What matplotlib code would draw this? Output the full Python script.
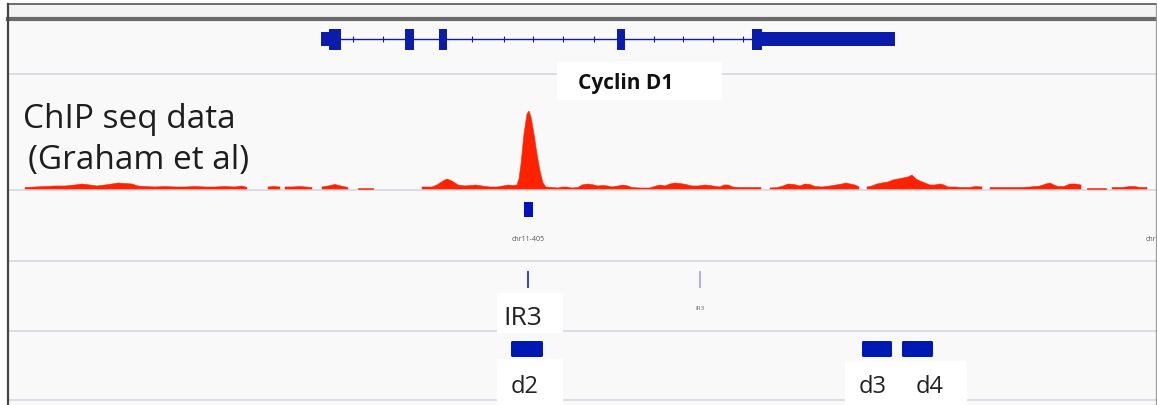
import matplotlib.pyplot as plt
from matplotlib.patches import Rectangle, FancyBboxPatch
import numpy as np

plt.rcParams['font.family'] = ['Open Sans', 'DejaVu Sans']

# canvas in screen units (1 unit = 1 px along the locus)
W, H = 1157, 406

# ---------------- data ----------------
gene_name = 'Cyclin D1'
cds_starts = [329, 405, 439, 617, 752]
cds_ends = [341, 414, 447, 625, 762]
utr_starts = [321, 762]
utr_ends = [329, 895]
intron_start, intron_end = 341, 752
strand_ticks = [353, 383, 472, 504, 533, 563, 594, 654, 683, 713, 743]

nan = np.nan
chip_pos = [25, 35, 45, 55, 65, 75, 82, 90, 97, 105, 112, 118, 125, 132, 138,
            145, 155, 165, 175, 185, 195, 205, 215, 225, 235, 242, 247,
            255,
            268, 274, 280,
            283,
            285, 292, 300, 306, 312,
            317,
            322, 328, 335, 341, 348,
            353,
            358, 365, 373,
            400,
            422, 432, 437, 443, 447, 452, 458, 465, 470, 476, 482, 490, 497,
            503, 508, 513, 517, 519, 521, 524, 527, 529, 531, 534, 537, 540,
            543, 546, 552, 558, 562, 567, 572, 578, 582, 588, 594, 598, 603,
            608, 612, 618, 623, 628, 632, 640, 650, 656, 660, 665, 670, 675,
            680, 686, 692, 698, 705, 710, 716, 720, 724, 728, 733, 740, 750,
            761,
            765,
            770, 778, 783, 788, 794, 800, 805, 810, 815, 822, 830, 836, 842,
            846, 850, 855, 859,
            863,
            867, 872, 877, 882, 888, 893, 898, 903, 908, 912, 916, 920, 925,
            930, 935, 940, 944, 948, 955, 962, 970, 975, 982,
            986,
            990, 1000, 1010, 1020, 1030, 1040, 1046, 1050, 1054, 1058, 1064,
            1070, 1076, 1081,
            1084,
            1087, 1097, 1106,
            1109,
            1112, 1122, 1130, 1135, 1140, 1147]
chip_val = [1.5, 2, 2.5, 3, 3, 4, 5, 4, 3, 4, 5, 6, 5.5, 5, 3,
            2.5, 2, 2.5, 2, 2, 2.5, 2, 2, 2.5, 2, 3, 1.5,
            nan,
            2, 2.5, 2,
            nan,
            2, 2, 2.5, 2, 1.5,
            nan,
            2, 3, 4.5, 3, 1.5,
            nan,
            1.5, 1.5, 1.5,
            nan,
            2, 2, 4, 8, 10, 8, 4, 3, 3.5, 4, 3, 2, 2,
            3, 4, 3.5, 4, 10, 25, 55, 75, 78, 72, 55, 35, 18,
            6, 2, 1.5, 1, 2, 2, 1, 1.5, 4, 5, 4, 3, 3.5,
            3, 2, 3, 4, 3, 1.5, 1, 1, 3, 4, 3, 5, 6,
            5.5, 4.5, 3, 3, 4, 3.5, 2.5, 2, 4, 4, 2, 1.5, 1.5,
            1.5,
            nan,
            1, 1.5, 3, 5, 4.5, 3, 5, 4.5, 2.5, 2, 3, 4, 5,
            6, 5, 4, 2,
            nan,
            2, 3, 5, 6, 7, 9, 10, 11, 12, 14, 10, 8, 6,
            4, 4, 5, 4, 2, 2, 1.5, 1.5, 2.5, 2,
            nan,
            1.5, 1.5, 1.5, 1.5, 2, 3, 5, 6, 4, 2.5, 2.5,
            5, 5, 4,
            nan,
            1.5, 1.5, 1.5,
            nan,
            1.5, 1.5, 2.5, 2.5, 1.5, 1.5]

# region track
region_starts = [524]
region_ends = [533]
region_names = ['chr11-405', 'chr11-406']
region_label_pos = [528, 1162]

# IR motif track
ir_pos = [528, 700]
ir_colors = ['#3344cc', '#aab2ea']
ir_name = 'IR3'

# deletion track
del_starts = [511, 862, 902]
del_ends = [543, 892, 933]
del_names = ['d2', 'd3', 'd4']
del_label_pos = [525, 873, 930]

# ---------------- layout ----------------
left, right, top = 8, 1156, 5
separators = [75, 190.5, 261.5, 331.5, 401]
gene_y = 40
chip_base = 190
region_y = 210
ir_y0, ir_y1 = 273, 288
del_y = 350
blue = '#0c1caa'
sep_color = '#dcdce6'

fig = plt.figure(figsize=(W / 100, H / 100), dpi=100)
fig.patch.set_facecolor('white')
ax = fig.add_axes([0, 0, 1, 1])
ax.set_xlim(0, W)
ax.set_ylim(H, 0)
ax.axis('off')

# panel background and frame
ax.add_patch(Rectangle((left, top), right - left, H - top, facecolor='#f9f9f9',
                       edgecolor='none', zorder=0))
ax.add_patch(Rectangle((left, top), right - left, 13, facecolor='#f3f3f3',
                       edgecolor='none', zorder=0))
ax.plot([left, right], [top, top], color='#555555', lw=1.2, zorder=5)
ax.plot([left, right], [19.5, 19.5], color='#6a6a6a', lw=3.0, zorder=5)
ax.plot([left, left], [top, H], color='#444444', lw=1.6, zorder=5)
ax.plot([right, right], [top, H], color='#9a9a9a', lw=0.9, zorder=5)
for y in separators:
    ax.plot([left, right], [y, y], color=sep_color, lw=1.4, zorder=1)

# gene model
ax.plot([intron_start, intron_end], [gene_y, gene_y], color=blue, lw=1.0, zorder=2)
ax.plot(strand_ticks, [gene_y] * len(strand_ticks), ls='none', marker='|',
        ms=4, mew=0.8, color=blue, zorder=2)
for s, e in zip(cds_starts, cds_ends):
    ax.add_patch(Rectangle((s, gene_y - 10.5), e - s, 21, facecolor=blue,
                           edgecolor='none', zorder=3))
for s, e in zip(utr_starts, utr_ends):
    ax.add_patch(Rectangle((s, gene_y - 7), e - s, 14, facecolor=blue,
                           edgecolor='none', zorder=3))

# ChIP-seq coverage
pos = np.array(chip_pos, dtype=float)
val = np.array(chip_val, dtype=float)
ax.fill_between(pos, chip_base, chip_base - val, color='#ff2200', lw=0.4,
                edgecolor='#ff2200', zorder=3)
ax.text(23, 119, 'ChIP seq data', fontsize=24, color='#1e1e1e', va='center',
        ha='left', zorder=6)
ax.text(28, 161, '(Graham et al)', fontsize=24, color='#1e1e1e', va='center',
        ha='left', zorder=6)

# region track
for s, e in zip(region_starts, region_ends):
    ax.add_patch(Rectangle((s, region_y - 7.5), e - s, 15, facecolor='#0010c4',
                           edgecolor='none', zorder=3))
for x, name in zip(region_label_pos, region_names):
    ax.text(x, 240, name, fontsize=5, color='#555555', ha='center',
            va='center', zorder=4, clip_on=False)

# IR motifs
for x, c in zip(ir_pos, ir_colors):
    ax.plot([x, x], [ir_y0, ir_y1], color=c, lw=1.4, zorder=3)
ax.text(ir_pos[1], 309, ir_name, fontsize=4.5, color='#666666', ha='center',
        va='center', zorder=4)

# deletions
for s, e in zip(del_starts, del_ends):
    ax.add_patch(FancyBboxPatch((s + 1.5, del_y - 6.5), e - s - 3, 13,
                                boxstyle='round,pad=1.5', facecolor='#0018b4',
                                edgecolor='none', zorder=3))

# white annotation boxes with labels
def label_box(x0, y0, x1, y1):
    ax.add_patch(Rectangle((x0, y0), x1 - x0, y1 - y0, facecolor='white',
                           edgecolor='none', zorder=4))

label_box(557, 63, 722, 101)
ax.text(626, 84, gene_name, fontsize=15, fontweight='bold', color='#111111',
        ha='center', va='center', zorder=5)

label_box(497, 294, 563, 334)
ax.text(ir_pos[0] - 5, 319, ir_name, fontsize=19, color='#222222',
        ha='center', va='center', zorder=5)

label_box(497, 360, 563, H)
label_box(845, 362, 967, H)
for x, name in zip(del_label_pos, del_names):
    ax.text(x, 387, name, fontsize=17, color='#222222', ha='center',
            va='center', zorder=5)

fig.savefig('out.png', dpi=100, facecolor=fig.get_facecolor())
